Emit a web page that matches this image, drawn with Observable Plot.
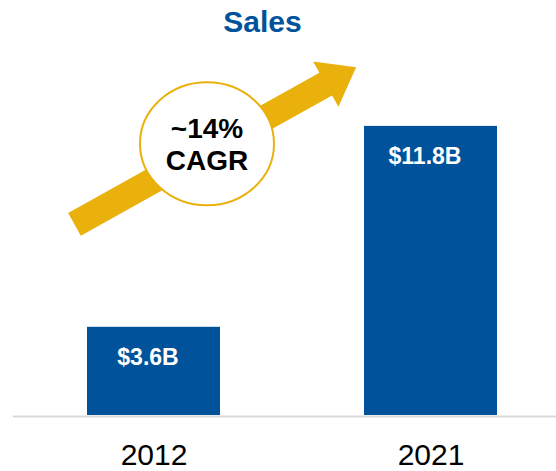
<!DOCTYPE html>
<html>
<head>
<meta charset="utf-8">
<script src="https://cdn.jsdelivr.net/npm/d3@7"></script>
<script src="https://cdn.jsdelivr.net/npm/@observablehq/plot@0.6"></script>
<style>
  html, body { margin: 0; padding: 0; background: #fff; }
  #wrap { width: 556px; height: 471px; overflow: hidden; font-family: "Liberation Sans", Arial, sans-serif; }
  #title { height: 41px; line-height: 41px; padding-top: 1px; padding-right: 31px; text-align: center; font-size: 30px; font-weight: bold; color: #00539B; }
</style>
</head>
<body>
<div id="wrap">
  <div id="title">Sales</div>
  <div id="chart"></div>
</div>
<script>
// Data
const years = ["2012", "2021"];
const sales = [3.6, 11.8];
const salesLabels = ["$3.6B", "$11.8B"];
const cagrLines = ["~14%", "CAGR"];
// annotation anchors (data space: year band + value)
const cagrAnchor = [{year: years[0], value: 11.09}];
const arrowAnchor = [{year: years[0], value: 11.01}];

const rows = years.map((y, i) => ({year: y, sales: sales[i], label: salesLabels[i]}));

const BLUE = "#00539B";
const GOLD = "#EAB00B";

// Arrow shape (thick block arrow rotated along the trend direction)
const arrowSymbol = {
  draw(ctx) {
    const ang = Math.atan2(-139.5, 250);
    const ux = Math.cos(ang), uy = Math.sin(ang);
    const nx = -uy, ny = ux;
    const L = 161.25, w = 13, hb = 126.5, H = 26;
    const pts = [[-L, -w], [hb, -w], [hb, -H], [L, 0], [hb, H], [hb, w], [-L, w]];
    pts.forEach(([a, p], i) => {
      const x = a * ux + p * nx, y = a * uy + p * ny;
      if (i === 0) ctx.moveTo(x, y); else ctx.lineTo(x, y);
    });
    ctx.closePath();
  }
};
const ellipseSymbol = {
  draw(ctx) {
    const rx = 67, ry = 61.5, k = 0.5523;
    ctx.moveTo(rx, 0);
    ctx.bezierCurveTo(rx, k * ry, k * rx, ry, 0, ry);
    ctx.bezierCurveTo(-k * rx, ry, -rx, k * ry, -rx, 0);
    ctx.bezierCurveTo(-rx, -k * ry, -k * rx, -ry, 0, -ry);
    ctx.bezierCurveTo(k * rx, -ry, rx, -k * ry, rx, 0);
    ctx.closePath();
  }
};

const chart = Plot.plot({
  width: 556,
  height: 429,
  marginLeft: 13,
  marginRight: 0,
  marginTop: 79,
  marginBottom: 56,
  style: {fontFamily: "'Liberation Sans', Arial, sans-serif", color: "#000", background: "#fff"},
  x: {domain: years, range: [58.25, 524.75], paddingInner: 0.52, paddingOuter: 0.1, label: null},
  y: {domain: [0, 12], axis: null},
  marks: [
    Plot.dot(arrowAnchor, {x: "year", y: "value", dx: 61.3, r: 1, symbol: arrowSymbol, fill: GOLD, stroke: "none"}),
    Plot.dot(cagrAnchor, {x: "year", y: "value", dx: 53, r: 1, symbol: ellipseSymbol, fill: "#fff", stroke: GOLD, strokeWidth: 2}),
    Plot.text(cagrAnchor, {x: "year", y: "value", dx: 53, text: () => cagrLines.join("\n"), fontSize: 28, fontWeight: "bold", fill: "#000", lineHeight: 1.13}),
    Plot.barY(rows, {x: "year", y: "sales", fill: BLUE}),
    Plot.text(rows, {x: "year", y: "sales", text: "label", fill: "#fff", fontSize: 23, fontWeight: "bold", dy: 30, dx: -6}),
    Plot.ruleY([0], {stroke: "#d9d9d9", strokeWidth: 2, dy: 1}),
    Plot.axisX({tickSize: 0, tickPadding: 28, fontSize: 30, fill: "#000", label: null})
  ]
});
document.getElementById("chart").appendChild(chart);
</script>
</body>
</html>
